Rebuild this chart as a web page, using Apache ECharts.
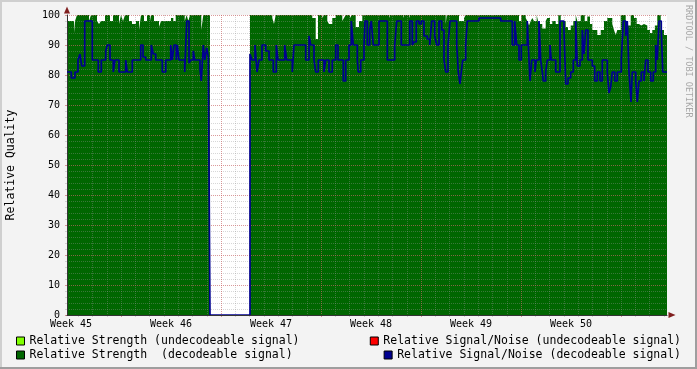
<!DOCTYPE html>
<html><head><meta charset="utf-8">
<script src="https://cdn.jsdelivr.net/npm/echarts@6/dist/echarts.min.js"></script>
<style>html,body{margin:0;padding:0;background:#f3f3f3}#c{width:697px;height:369px}</style>
</head><body><div id="c"></div>
<script>
// ---- data (x in days since graph start) ----
const weekLabels = ['Week 45', 'Week 46', 'Week 47', 'Week 48', 'Week 49', 'Week 50'];
const seriesNames = [
  'Relative Strength (undecodeable signal)',
  'Relative Signal/Noise (undecodeable signal)',
  'Relative Strength  (decodeable signal)',
  'Relative Signal/Noise (decodeable signal)'
];
const rsUndecodeable = [];
const snrUndecodeable = [];

const snrDays = [0,0.30,0.56,0.77,0.91,1.03,1.24,1.77,2.19,2.40,2.71,2.82,3.01,3.24,3.36,3.64,4.11,4.22,4.57,5.16,5.32,5.51,5.90,6.04,6.21,6.67,6.91,7.26,7.37,7.49,7.65,7.72,7.84,8.24,8.38,8.54,8.66,8.84,8.94,9.31,9.40,9.54,9.64,9.78,9.89,10.01,
 12.81,12.95,13.16,13.30,13.44,13.65,13.91,14.14,14.44,14.65,14.77,15.24,15.38,15.77,15.89,16.71,16.94,17.06,17.29,17.41,17.59,17.99,18.11,18.34,18.57,18.81,18.97,19.34,19.51,19.74,19.90,20.04,20.32,20.39,20.56,
 20.79,20.86,21.02,21.19,21.30,21.44,21.84,22.42,22.94,23.08,23.40,23.99,24.17,24.29,24.45,24.64,24.80,24.99,25.22,25.39,25.53,25.74,25.88,26.04,26.23,26.39,26.51,26.67,26.81,27.28,27.39,27.51,27.60,27.70,
 27.91,28.02,28.84,30.36,31.17,31.34,31.48,31.64,31.80,32.22,32.34,32.41,32.53,32.76,32.85,33.04,33.16,33.27,33.34,33.51,33.62,33.81,33.90,34.21,34.51,
 34.79,34.91,35.07,35.26,35.44,35.61,35.72,35.91,36.07,36.19,36.31,36.47,36.77,36.94,37.12,37.31,37.47,37.82,37.94,38.06,38.17,38.34,38.52,38.80,38.94,39.11,39.22,39.34,39.48,39.57,39.81,39.92,40.04,40.20,40.39,40.51,40.67,40.86,41.04,41.21,41.32,41.44,41.60,41.70,42];
const snrValues = [81,79,81,85,87,83,98,85,81,85,88,90,85,81,85,81,85,81,85,90,86,85,90,87,85,81,85,90,85,90,85,90,85,81,98,84,85,88,85,82,78,90,85,89,86,0,
 87,85,90,81,85,90,88,85,81,90,85,90,85,81,90,85,93,90,85,81,85,81,85,81,85,90,85,78,85,90,98,90,85,81,85,
 90,98,90,95,98,90,98,85,90,98,90,98,90,91,98,97,98,93,92,90,98,93,90,98,95,85,81,90,98,90,81,77,81,85,
 90,98,99,98,90,98,90,85,90,98,85,78,85,81,85,98,85,81,78,81,85,90,85,81,98,
 95,77,79,81,85,98,83,85,95,87,95,85,83,78,81,78,85,81,74,76,81,78,81,85,98,93,98,81,71,81,78,71,78,81,78,85,81,78,81,90,85,98,95,81,81];

const rsDays = [0,0.49,0.56,0.70,1.54,1.68,2.10,2.24,2.38,2.66,3.01,3.22,3.64,3.78,3.92,4.06,4.34,4.55,4.83,5.04,5.18,5.39,5.60,5.81,5.88,6.09,6.44,6.58,7.28,7.44,7.61,8.24,8.38,8.49,8.61,9.40,9.54,10.01,
 12.81,14.37,14.49,14.61,17.17,17.41,17.57,17.87,17.99,18.22,18.34,18.57,18.81,19.27,19.39,19.51,19.81,19.93,20.21,20.44,20.67,22.54,22.61,23.52,23.59,23.94,24.01,26.51,26.58,27.44,27.79,27.91,
 31.64,31.80,32.11,32.22,32.34,32.46,32.57,32.69,32.88,32.97,33.11,33.27,33.51,33.62,33.81,33.97,34.21,34.39,34.56,34.91,35.07,35.26,35.44,35.61,35.72,35.96,36.24,36.42,36.61,36.77,37.12,37.36,37.59,37.82,
 38.17,38.29,38.41,38.52,38.76,39.11,39.27,39.46,39.69,39.88,40.04,40.20,40.39,40.62,40.81,40.97,41.15,41.32,41.56,41.79,42];
const rsValues = [98,94,98,100,98,100,98,97,98,100,98,100,97,100,98,100,98,97,98,95,100,98,100,98,100,98,96,98,99,98,100,98,100,98,100,95,100,0,
 100,99,97,100,99,92,100,99,100,98,97,99,100,98,99,100,99,100,96,98,100,99,100,99,100,99,100,97,100,98,99,100,
 98,100,99,98,96.5,98,99,98,100,98,97,95.5,98,99,97,98,97,100,98,96,95,96.5,98,100,98,100,98,99.5,97,95,93.3,95,98,99,
 97,95,93.3,95,100,98,96.5,100,99,97,96.5,97,96.5,95,94,95,96.5,100,95,93.3,93.3];

// grid / label placement (days from start)
const dayLineOffset = 0.79, weekLineOffset = 3.79, labelOffset = 0.28;

const pair = (xs, ys) => xs.map((x, i) => [x, ys[i]]);
const dayLines = Array.from({length: 42}, (_, i) => +(dayLineOffset + i).toFixed(2));
const weekLines = weekLabels.map((_, i) => +(weekLineOffset + 7 * i).toFixed(2));
const labelDays = weekLabels.map((_, i) => +(labelOffset + 7 * i).toFixed(2));

const MONO = "'DejaVu Sans Mono', monospace";
const GRID = 'rgba(150,150,150,0.38)';
const MGRID = 'rgba(222,79,79,0.45)';
const ARROW = '#801f1f';

const chart = echarts.init(document.getElementById('c'), null, {renderer: 'canvas'});
const legendCommon = {
  icon: 'rect', itemWidth: 8, itemHeight: 8, padding: 0, itemGap: 0, selectedMode: false,
  textStyle: {fontFamily: MONO, fontSize: 11.5, color: '#000', lineHeight: 14},
  itemStyle: {borderColor: '#000', borderWidth: 1}
};
chart.setOption({
  animation: false,
  backgroundColor: '#f3f3f3',
  grid: {left: 67, right: 30, top: 15, bottom: 54, show: true, backgroundColor: '#ffffff', borderWidth: 0, outerBoundsMode: 'none'},
  legend: [
    Object.assign({data: [seriesNames[0]], left: 16, top: 334}, legendCommon),
    Object.assign({data: [seriesNames[2]], left: 16, top: 348}, legendCommon),
    Object.assign({data: [seriesNames[1]], right: 16, top: 334}, legendCommon),
    Object.assign({data: [seriesNames[3]], right: 16, top: 348}, legendCommon)
  ],
  xAxis: [
    {type: 'value', min: 0, max: 42, position: 'bottom', z: 6,
     axisLine: {show: true, onZero: false, lineStyle: {color: '#333', width: 1}},
     axisTick: {show: false}, axisLabel: {show: false}, splitLine: {show: false}},
    {type: 'value', min: 0, max: 42, position: 'bottom', z: 3,
     axisLine: {show: false, onZero: false}, axisLabel: {show: false},
     axisTick: {show: true, customValues: dayLines, length: 2, lineStyle: {color: GRID}},
     splitLine: {show: true, showMinLine: false, showMaxLine: false, lineStyle: {color: GRID, type: [1, 1], width: 1}}},
    {type: 'value', min: 0, max: 42, position: 'bottom', z: 4,
     axisLine: {show: false, onZero: false}, axisLabel: {show: false},
     axisTick: {show: true, customValues: weekLines, length: 2, lineStyle: {color: MGRID}},
     splitLine: {show: true, showMinLine: false, showMaxLine: false, lineStyle: {color: MGRID, type: [1, 1], width: 1}}},
    {type: 'value', min: 0, max: 42, position: 'bottom', z: 6,
     axisLine: {show: true, onZero: false, symbol: ['none', 'triangle'], symbolSize: [6, 7], symbolOffset: [0, 5], lineStyle: {color: ARROW, width: 0}},
     axisTick: {show: false}, splitLine: {show: false},
     axisLabel: {show: true, customValues: labelDays, margin: 4, fontFamily: MONO, fontSize: 10, color: '#000',
       formatter: v => weekLabels[Math.round((v - labelOffset) / 7)] || ''}}
  ],
  yAxis: [
    {type: 'value', min: 0, max: 100, interval: 10, position: 'left', z: 4,
     axisLine: {show: true, onZero: false, lineStyle: {color: '#333', width: 1}},
     axisTick: {show: true, length: 2, lineStyle: {color: MGRID}},
     axisLabel: {margin: 7, fontFamily: MONO, fontSize: 10, color: '#000'},
     splitLine: {show: true, lineStyle: {color: MGRID, type: [1, 1], width: 1}},
     name: 'Relative Quality', nameLocation: 'middle', nameGap: 50,
     nameTextStyle: {fontFamily: MONO, fontSize: 11.5, color: '#000'}},
    {type: 'value', min: 0, max: 100, interval: 2, position: 'left', z: 3,
     axisLine: {show: true, onZero: false, symbol: ['none', 'triangle'], symbolSize: [6, 7], symbolOffset: [0, 5], lineStyle: {color: ARROW, width: 0}},
     axisTick: {show: true, length: 2, lineStyle: {color: GRID}},
     axisLabel: {show: false},
     splitLine: {show: true, lineStyle: {color: GRID, type: [1, 1], width: 1}}}
  ],
  series: [
    {name: seriesNames[0], type: 'line', data: rsUndecodeable, color: '#80ff00', showSymbol: false},
    {name: seriesNames[1], type: 'line', data: snrUndecodeable, color: '#ff0000', showSymbol: false},
    {name: seriesNames[2], type: 'line', step: 'end', data: pair(rsDays, rsValues), color: '#006600',
     showSymbol: false, z: 2, lineStyle: {width: 0}, areaStyle: {color: '#006600', opacity: 1, origin: 'start'}},
    {name: seriesNames[3], type: 'line', step: 'end', data: pair(snrDays, snrValues), color: '#000090',
     showSymbol: false, z: 5, lineStyle: {width: 1.7, color: '#000090'}}
  ],
  graphic: [
    {type: 'text', x: 688.5, y: 5, rotation: -Math.PI / 2, silent: true,
     style: {text: 'RRDTOOL / TOBI OETIKER', font: "8.5px 'DejaVu Sans Mono'", fill: '#a8a8a8', textVerticalAlign: 'middle', verticalAlign: 'middle', align: 'left'}},
    {type: 'rect', silent: true, shape: {x: 0, y: 0, width: 697, height: 2}, style: {fill: '#cfcfcf'}},
    {type: 'rect', silent: true, shape: {x: 0, y: 0, width: 2, height: 369}, style: {fill: '#cfcfcf'}},
    {type: 'rect', silent: true, shape: {x: 0, y: 367, width: 697, height: 2}, style: {fill: '#9e9e9e'}},
    {type: 'rect', silent: true, shape: {x: 695, y: 0, width: 2, height: 369}, style: {fill: '#9e9e9e'}}
  ]
});
</script></body></html>
